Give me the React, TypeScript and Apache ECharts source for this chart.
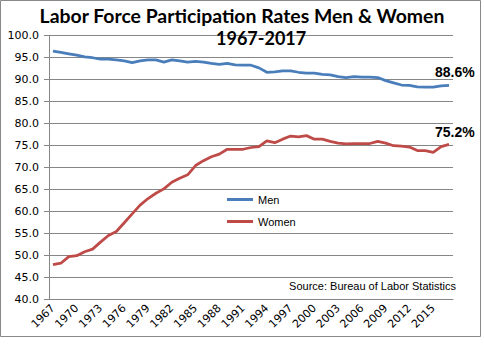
import React, { useEffect, useRef } from "react";
import * as echarts from "echarts";

const years: string[] = [];
for (let y = 1967; y <= 2017; y++) years.push(String(y));

const menRates = [
  96.4, 96.1, 95.8, 95.5, 95.1, 94.9, 94.6, 94.6, 94.4, 94.2,
  93.8, 94.2, 94.4, 94.4, 93.9, 94.4, 94.2, 93.9, 94.1, 93.9,
  93.6, 93.4, 93.6, 93.3, 93.2, 93.2, 92.6, 91.6, 91.7, 91.9,
  91.9, 91.6, 91.4, 91.4, 91.1, 91.0, 90.6, 90.4, 90.6, 90.5,
  90.5, 90.4, 89.7, 89.2, 88.7, 88.6, 88.3, 88.2, 88.2, 88.5,
  88.6,
];

const womenRates = [
  47.9, 48.2, 49.7, 49.9, 50.8, 51.4, 53.0, 54.5, 55.4, 57.4,
  59.4, 61.4, 62.9, 64.1, 65.1, 66.6, 67.5, 68.3, 70.4, 71.5,
  72.4, 73.0, 74.1, 74.1, 74.1, 74.5, 74.7, 76.0, 75.6, 76.4,
  77.1, 76.9, 77.2, 76.4, 76.4, 75.9, 75.5, 75.3, 75.4, 75.4,
  75.4, 75.9, 75.5, 74.9, 74.8, 74.6, 73.8, 73.8, 73.4, 74.7,
  75.2,
];

const seriesNames = ["Men", "Women"];
const seriesColors = ["#4A7EBB", "#BE4B48"];
const yTicks = { min: 40, max: 100, interval: 5 };

function endLabel(dy: number) {
  return {
    show: true,
    formatter: (p: any) => `${Number(p.value).toFixed(1)}%`,
    fontFamily: "Liberation Sans",
    fontWeight: "bold",
    fontSize: 14,
    color: "#000",
    offset: [-22, dy],
  };
}

export default function App() {
  const ref = useRef<HTMLDivElement>(null);
  useEffect(() => {
    if (!ref.current) return;
    const chart = echarts.init(ref.current, undefined, { renderer: "svg" });
    chart.setOption({
      animation: false,
      backgroundColor: "#fff",
      title: [
        {
          text: "Labor Force Participation Rates Men & Women",
          left: "center",
          top: 1,
          textStyle: { fontFamily: "Lato", fontWeight: "bold", fontSize: 19.4, color: "#000" },
        },
        {
          text: "1967-2017",
          left: 211,
          top: 24,
          textStyle: { fontFamily: "Lato", fontWeight: "bold", fontSize: 18, color: "#000" },
        },
      ],
      grid: { left: 49, right: 31, top: 35.3, bottom: 51.7, containLabel: false },
      legend: {
        orient: "vertical",
        left: 222,
        top: 189,
        icon: "rect",
        itemWidth: 26,
        itemHeight: 3,
        itemGap: 11,
        data: seriesNames,
        textStyle: { fontFamily: "Liberation Sans", fontSize: 11, color: "#000" },
      },
      xAxis: {
        type: "category",
        data: years,
        boundaryGap: true,
        axisLine: { lineStyle: { color: "#868686" } },
        axisTick: { interval: 0, length: 4, lineStyle: { color: "#868686" } },
        axisLabel: {
          interval: 2,
          rotate: 45,
          fontFamily: "DejaVu Sans",
          fontSize: 11,
          color: "#000",
          margin: 7,
        },
      },
      yAxis: {
        type: "value",
        min: yTicks.min,
        max: yTicks.max,
        interval: yTicks.interval,
        axisLine: { show: true, lineStyle: { color: "#868686" } },
        axisTick: { show: true, length: 5, lineStyle: { color: "#868686" } },
        axisLabel: {
          formatter: (v: number) => v.toFixed(1),
          fontFamily: "DejaVu Sans",
          fontSize: 11,
          color: "#000",
          margin: 10,
        },
        splitLine: { lineStyle: { color: "#868686" } },
      },
      series: [
        {
          name: seriesNames[0],
          type: "line",
          data: menRates,
          showSymbol: false,
          symbol: "none",
          lineStyle: { width: 2.75, color: seriesColors[0] },
          itemStyle: { color: seriesColors[0] },
          endLabel: endLabel(-13),
        },
        {
          name: seriesNames[1],
          type: "line",
          data: womenRates,
          showSymbol: false,
          symbol: "none",
          lineStyle: { width: 2.75, color: seriesColors[1] },
          itemStyle: { color: seriesColors[1] },
          endLabel: endLabel(-12),
        },
      ],
      graphic: [
        {
          type: "text",
          right: 28,
          top: 280,
          style: {
            text: "Source: Bureau of Labor Statistics",
            fontFamily: "Liberation Sans",
            fontSize: 11,
            fill: "#000",
          },
        },
        {
          type: "rect",
          left: -2,
          top: -2,
          shape: { width: 480, height: 336 },
          style: { fill: "none", stroke: "#888", lineWidth: 1 },
          silent: true,
        },
      ],
    });
    return () => chart.dispose();
  }, []);
  return (
    <div
      ref={ref}
      style={{ position: "fixed", left: 0, top: 0, width: 484, height: 351 }}
    />
  );
}
